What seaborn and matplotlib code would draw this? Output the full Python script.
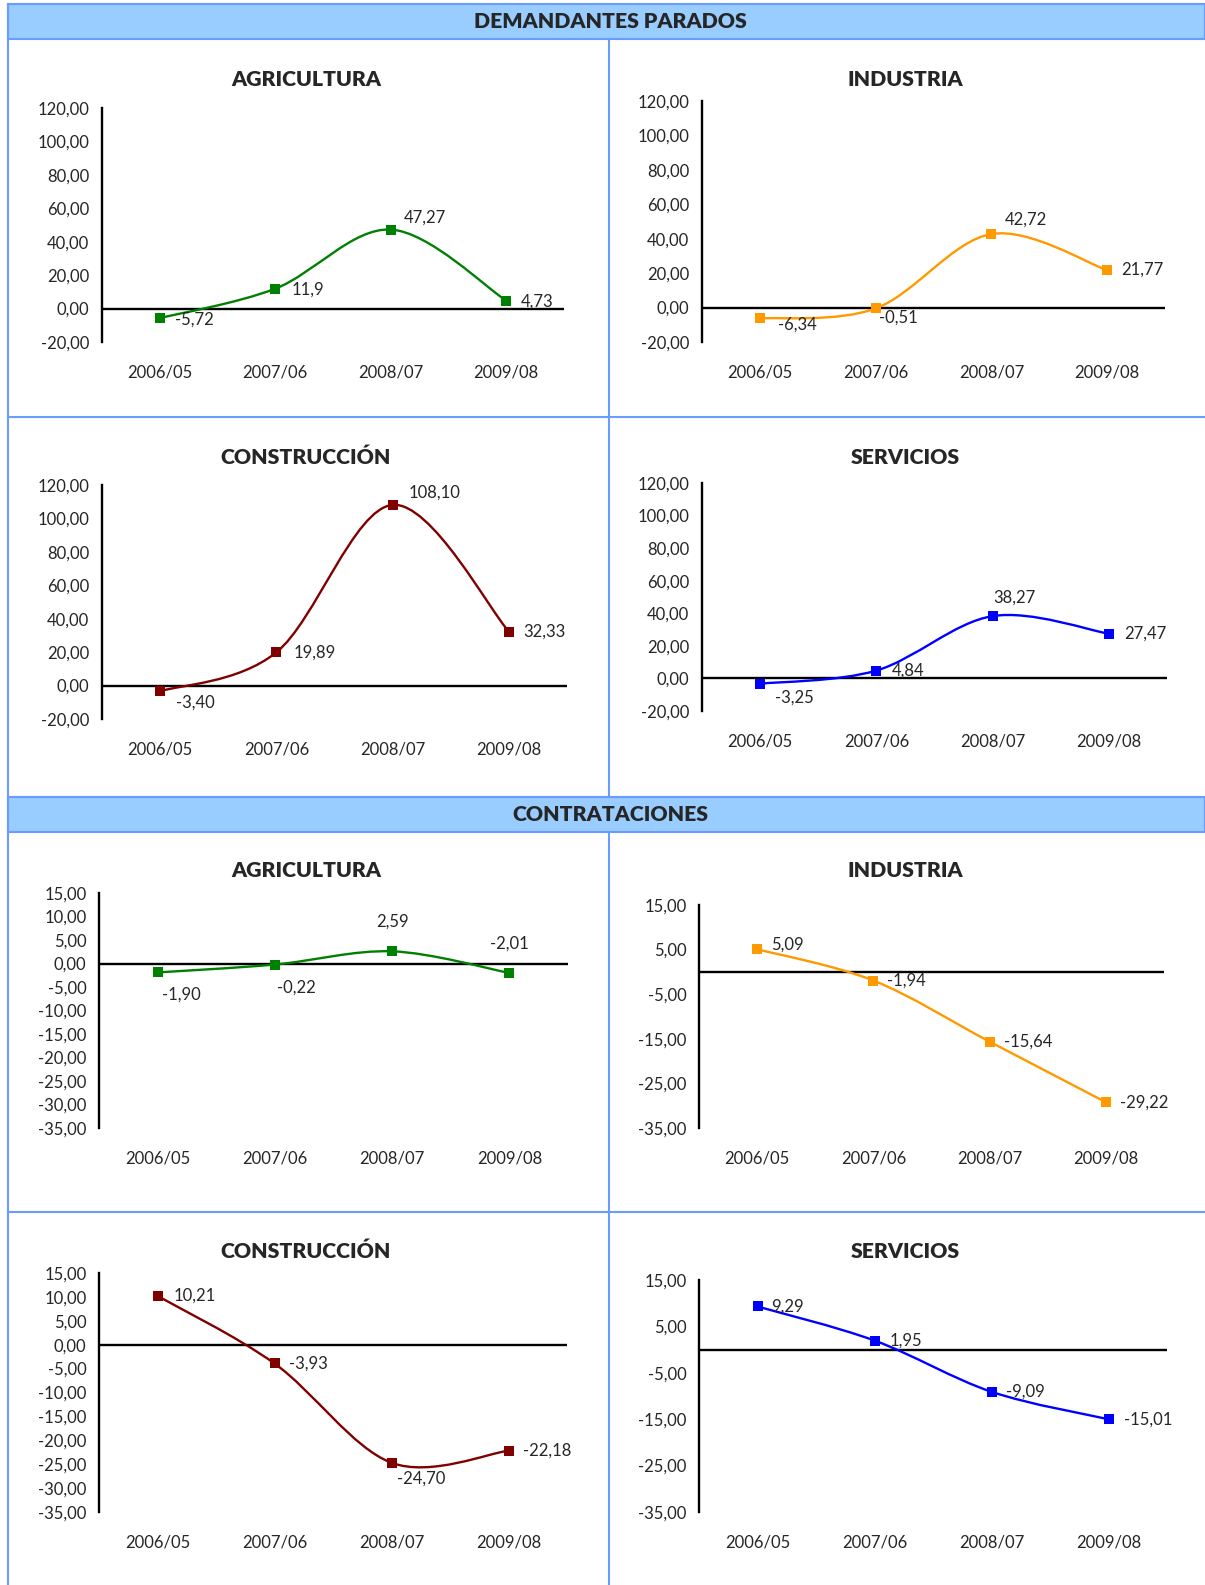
import numpy as np
import pandas as pd
import matplotlib.pyplot as plt
import seaborn as sns
from matplotlib.path import Path
from matplotlib.patches import PathPatch, Rectangle
from matplotlib.lines import Line2D

sns.set_style("white")
plt.rcParams['font.family'] = ['Lato', 'DejaVu Sans']

# data
categories = ['2006/05', '2007/06', '2008/07', '2009/08']

dem_agri = [-5.72, 11.9, 47.27, 4.73]
dem_ind = [-6.34, -0.51, 42.72, 21.77]
dem_cons = [-3.40, 19.89, 108.10, 32.33]
dem_serv = [-3.25, 4.84, 38.27, 27.47]

con_agri = [-1.90, -0.22, 2.59, -2.01]
con_ind = [5.09, -1.94, -15.64, -29.22]
con_cons = [10.21, -3.93, -24.70, -22.18]
con_serv = [9.29, 1.95, -9.09, -15.01]

dem_agri_labels = ['-5,72', '11,9', '47,27', '4,73']
dem_ind_labels = ['-6,34', '-0,51', '42,72', '21,77']
dem_cons_labels = ['-3,40', '19,89', '108,10', '32,33']
dem_serv_labels = ['-3,25', '4,84', '38,27', '27,47']
con_agri_labels = ['-1,90', '-0,22', '2,59', '-2,01']
con_ind_labels = ['5,09', '-1,94', '-15,64', '-29,22']
con_cons_labels = ['10,21', '-3,93', '-24,70', '-22,18']
con_serv_labels = ['9,29', '1,95', '-9,09', '-15,01']

dem_ticks = np.arange(-20, 121, 20)
con_ticks_5 = np.arange(-35, 16, 5)
con_ticks_10 = np.arange(-35, 16, 10)

GREEN, ORANGE, DARKRED, BLUE = '#008000', '#FF9900', '#800000', '#0000FF'
FRAME = '#6A9BFF'
HEAD = '#99CCFF'

W, H = 1205, 1585
fig = plt.figure(figsize=(W / 100, H / 100), dpi=100)


def rect(x0, y0, x1, y1):
    return [x0 / W, 1 - y1 / H, (x1 - x0) / W, (y1 - y0) / H]


def smooth_path(values):
    # Excel-style smoothed line: cubic bezier through the points
    xs = np.arange(len(values), dtype=float)
    ys = np.asarray(values, dtype=float)
    pts = np.column_stack([xs, ys])
    verts = [pts[0]]
    codes = [Path.MOVETO]
    n = len(pts)
    for i in range(n - 1):
        p0 = pts[max(i - 1, 0)]
        p1 = pts[i]
        p2 = pts[i + 1]
        p3 = pts[min(i + 2, n - 1)]
        c1 = p1 + (p2 - p0) / 6
        c2 = p2 - (p3 - p1) / 6
        verts += [c1, c2, p2]
        codes += [Path.CURVE4] * 3
    return Path(verts, codes)


def panel(box, values, labels, color, ticks, offsets):
    ax = fig.add_axes(rect(*box))
    df = pd.DataFrame({'x': np.arange(len(values)), 'y': values})
    ax.add_patch(PathPatch(smooth_path(values), facecolor='none', edgecolor=color,
                           lw=1.7, zorder=3))
    sns.scatterplot(data=df, x='x', y='y', marker='s', color=color, s=48,
                    linewidth=0, ax=ax, zorder=4)
    ax.axhline(0, color='black', lw=1.7, zorder=2)
    for i, (v, lab) in enumerate(zip(values, labels)):
        dx, dy, ha = offsets[i]
        ax.annotate(lab, (i, v), xytext=(dx, -dy), textcoords='offset pixels',
                    ha=ha, va='center', fontsize=12, zorder=5)
    ax.set_xlim(-0.5, len(values) - 0.5)
    ax.set_ylim(ticks[0], ticks[-1])
    ax.set_yticks(ticks)
    ax.set_yticklabels([f"{t:.2f}".replace('.', ',') for t in ticks])
    ax.set_xticks(np.arange(len(categories)))
    ax.set_xticklabels(categories)
    ax.set_xlabel('')
    ax.set_ylabel('')
    ax.tick_params(axis='x', length=0, pad=16, labelsize=12)
    ax.tick_params(axis='y', length=0, pad=9, labelsize=12)
    for s in ['top', 'right', 'bottom']:
        ax.spines[s].set_visible(False)
    ax.spines['left'].set_color('black')
    ax.spines['left'].set_linewidth(1.7)
    ax.patch.set_alpha(0)
    return ax


R = 'left'
C = 'center'

# frame and header bands
for (y0, y1, txt) in [(4, 39, 'DEMANDANTES PARADOS'), (797, 832, 'CONTRATACIONES')]:
    fig.add_artist(Rectangle((8 / W, 1 - y1 / H), (W - 8) / W, (y1 - y0) / H,
                             transform=fig.transFigure, facecolor=HEAD,
                             edgecolor=FRAME, lw=1.5))
    fig.text(610 / W, 1 - (y0 + y1) / 2 / H, txt, ha='center', va='center',
             fontsize=15.3, fontweight='heavy')

for seg in [((8, 8), (4, H)), ((609, 609), (39, 797)), ((609, 609), (832, H)),
            ((8, W), (417, 417)), ((8, W), (1212, 1212))]:
    (xa, xb), (ya, yb) = seg
    fig.add_artist(Line2D([xa / W, xb / W], [1 - ya / H, 1 - yb / H],
                          transform=fig.transFigure, color=FRAME, lw=1.5))

# section titles
titles = [(306, 80, 'AGRICULTURA'), (905, 80, 'INDUSTRIA'),
          (306, 457, 'CONSTRUCCIÓN'), (905, 457, 'SERVICIOS'),
          (306, 871, 'AGRICULTURA'), (905, 871, 'INDUSTRIA'),
          (306, 1251, 'CONSTRUCCIÓN'), (905, 1251, 'SERVICIOS')]
for x, y, t in titles:
    fig.text(x / W, 1 - y / H, t, ha='center', va='center', fontsize=15.3,
             fontweight='heavy')

panel((102, 108, 564, 342), dem_agri, dem_agri_labels, GREEN, dem_ticks,
      [(15, 1, R), (16, 1, R), (13, -12, R), (15, 1, R)])
panel((702, 101, 1165, 342), dem_ind, dem_ind_labels, ORANGE, dem_ticks,
      [(18, 6, R), (3, 9, R), (13, -14, R), (14, 0, R)])
panel((102, 485, 567, 719), dem_cons, dem_cons_labels, DARKRED, dem_ticks,
      [(16, 11, R), (17, 0, R), (16, -12, R), (14, 0, R)])
panel((702, 483, 1167, 711), dem_serv, dem_serv_labels, BLUE, dem_ticks,
      [(15, 14, R), (15, 0, R), (1, -18, R), (15, 0, R)])

panel((99, 893, 568, 1128), con_agri, con_agri_labels, GREEN, con_ticks_5,
      [(4, 22, R), (2, 23, R), (0, -30, C), (0, -29, C)])
panel((699, 905, 1164, 1128), con_ind, con_ind_labels, ORANGE, con_ticks_10,
      [(14, -5, R), (14, 0, R), (14, 0, R), (14, 0, R)])
panel((99, 1273, 567, 1512), con_cons, con_cons_labels, DARKRED, con_ticks_5,
      [(16, 0, R), (15, 0, R), (5, 16, R), (15, 0, R)])
panel((699, 1280, 1167, 1512), con_serv, con_serv_labels, BLUE, con_ticks_10,
      [(14, 0, R), (15, 0, R), (14, 0, R), (15, 0, R)])

fig.savefig('out.png', dpi=100, facecolor='white')
